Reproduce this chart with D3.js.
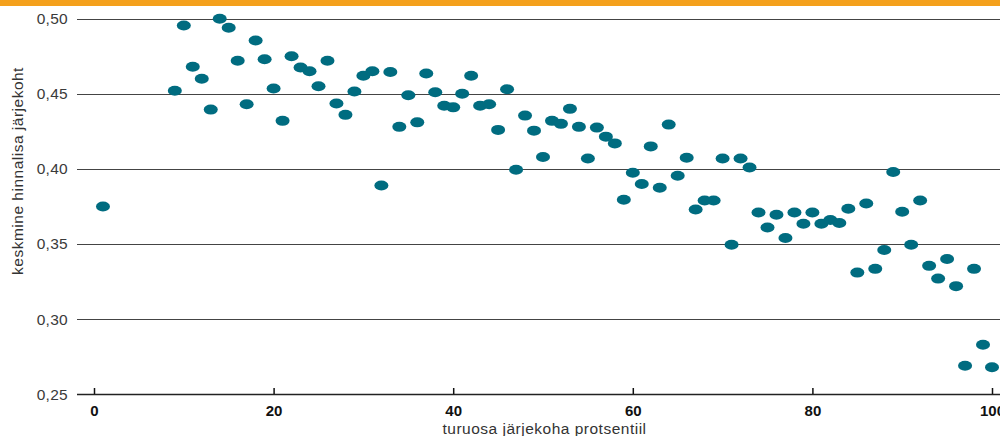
<!DOCTYPE html>
<html><head><meta charset="utf-8">
<script src="https://cdn.jsdelivr.net/npm/d3@7"></script>
<style>
html,body{margin:0;padding:0;background:#fff;}
svg{display:block;font-family:"Liberation Sans",Arial,sans-serif;}
</style></head>
<body><svg id="c" width="1000" height="436"></svg>
<script>
const percentiles = [1,9,10,11,12,13,14,15,16,17,18,19,20,21,22,23,24,25,26,27,28,29,30,31,32,33,34,35,36,37,38,39,40,41,42,43,44,45,46,47,48,49,50,51,52,53,54,55,56,57,58,59,60,61,62,63,64,65,66,67,68,69,70,71,72,73,74,75,76,77,78,79,80,81,82,83,84,85,86,87,88,89,90,91,92,93,94,95,96,97,98,99,100];
const values = [0.375,0.452,0.4955,0.468,0.460,0.4395,0.500,0.494,0.472,0.443,0.4855,0.473,0.4535,0.432,0.475,0.4675,0.465,0.455,0.472,0.4435,0.436,0.4515,0.462,0.465,0.389,0.4645,0.428,0.449,0.431,0.4635,0.451,0.442,0.441,0.450,0.462,0.442,0.443,0.426,0.453,0.3995,0.4355,0.4255,0.408,0.432,0.430,0.440,0.428,0.407,0.4275,0.4215,0.417,0.3795,0.3975,0.390,0.415,0.3875,0.4295,0.3955,0.4075,0.373,0.379,0.379,0.407,0.3495,0.407,0.401,0.371,0.361,0.3695,0.354,0.371,0.3635,0.371,0.3635,0.366,0.364,0.3735,0.331,0.377,0.3335,0.346,0.398,0.3715,0.3495,0.379,0.3355,0.327,0.340,0.322,0.269,0.3335,0.283,0.268];
const yTicks = [0.25,0.30,0.35,0.40,0.45,0.50];
const yTickLabels = ["0,25","0,30","0,35","0,40","0,45","0,50"];
const xTicks = [0,20,40,60,80,100];
const xTitle = "turuosa järjekoha protsentiil";
const yTitle = "keskmine hinnalisa järjekoht";

const svg = d3.select("#c");
const W = 1000, H = 436;
const plotLeft = 77;
const x = d3.scaleLinear().domain([0,100]).range([94,992]);
const y = d3.scaleLinear().domain([0.25,0.50]).range([394.3,18.7]);

// top orange band
svg.append("rect").attr("x",0).attr("y",0).attr("width",W).attr("height",6).attr("fill","#F4A01C");

// gridlines
svg.append("g").selectAll("line").data(yTicks).join("line")
  .attr("x1",plotLeft).attr("x2",W)
  .attr("y1",d=>Math.round(y(d))+0.5).attr("y2",d=>Math.round(y(d))+0.5)
  .attr("stroke",d=>d===0.25?"#222":"#444").attr("stroke-width",d=>d===0.25?1.5:1.2);

// y labels
svg.append("g").selectAll("text").data(yTicks).join("text")
  .attr("x",68).attr("y",d=>y(d)).attr("dy","0.35em")
  .attr("text-anchor","end").attr("font-size",15.5).attr("letter-spacing",0.3).attr("fill","#3a3a3a")
  .text((d,i)=>yTickLabels[i]);

// x axis ticks
const xAxis = d3.axisBottom(x).tickValues(xTicks).tickSize(0).tickPadding(0).tickFormat(d3.format("d"));
const gx = svg.append("g").attr("transform",`translate(0,${Math.round(y(0.25))})`).call(xAxis);
gx.select(".domain").remove();
gx.selectAll(".tick text").attr("y",17).attr("dy","0.32em").attr("font-size",15).attr("font-weight","bold")
  .attr("fill","#111").attr("font-family","'Liberation Sans',Arial,sans-serif");
gx.selectAll(".tick").append("line").attr("y1",-6).attr("y2",0).attr("stroke","#111").attr("stroke-width",1.5);

// points
svg.append("g").selectAll("ellipse").data(percentiles).join("ellipse")
  .attr("cx",d=>x(d)).attr("cy",(d,i)=>y(values[i]))
  .attr("rx",7).attr("ry",5).attr("fill","#006C80");

// axis titles
svg.append("text").attr("x",(plotLeft+W)/2+6).attr("y",429).attr("dy","0.35em")
  .attr("text-anchor","middle").attr("font-size",15.5).attr("letter-spacing",0.5).attr("fill","#333").text(xTitle);
svg.append("text").attr("transform",`translate(18,${171}) rotate(-90)`).attr("dy","0.35em")
  .attr("text-anchor","middle").attr("font-size",15.5).attr("letter-spacing",0.5).attr("fill","#333").text(yTitle);
</script></body></html>
